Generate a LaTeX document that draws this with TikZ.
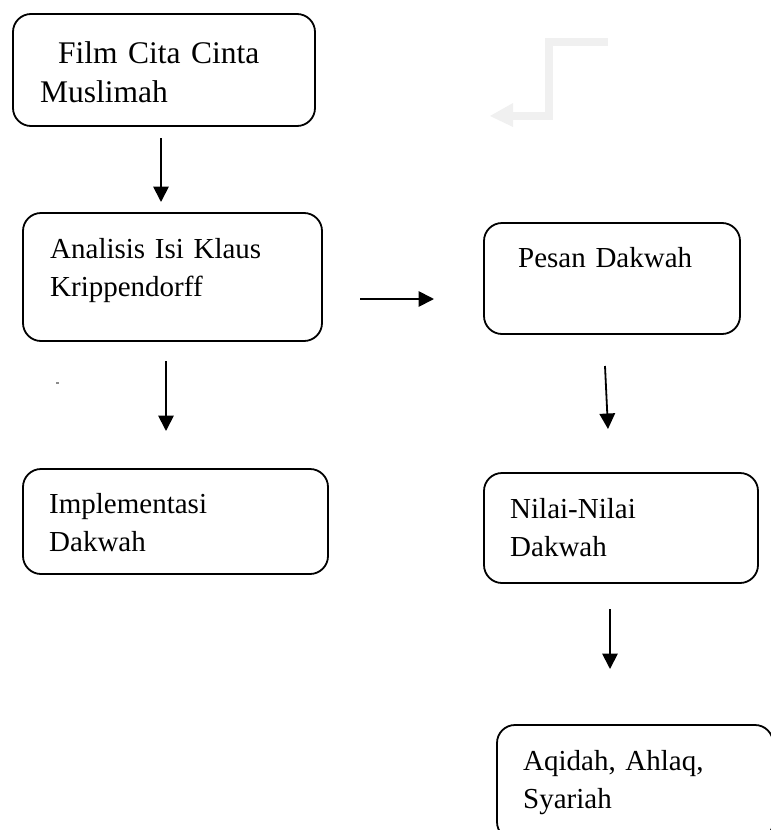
\documentclass[tikz,border=0pt]{standalone}
\usepackage{fontspec}
\setmainfont{Liberation Serif}
\usetikzlibrary{arrows.meta}
\begin{document}
\begin{tikzpicture}[x=1pt,y=-1pt,
  box/.style={draw=black,line width=1.8pt,rounded corners=18pt,rectangle,inner sep=0pt},
  lbl/.style={anchor=base west,inner sep=0pt,text width=280pt,align=left,
    font=\fontsize{29}{38.5}\selectfont},
  arr/.style={line width=1.8pt,-{Triangle[length=15.5pt,width=15.5pt]}},
  faint/.style={line width=8pt,draw=black!6}
]
\useasboundingbox (0,0) rectangle (771,830);
\clip (0,0) rectangle (771,830);
% boxes
\node[box,minimum width=302pt,minimum height=112pt] (b1) at (164,70) {};
\node[box,minimum width=299pt,minimum height=128pt] (b2) at (172.5,277) {};
\node[box,minimum width=256pt,minimum height=111pt] (b3) at (612,278.5) {};
\node[box,minimum width=305pt,minimum height=105pt] (b4) at (175.5,521.5) {};
\node[box,minimum width=274pt,minimum height=110pt] (b5) at (621,528) {};
\node[box,minimum width=276pt,minimum height=115pt] (b6) at (635,782.5) {};
% texts
\node[lbl,font=\fontsize{31.5}{39}\selectfont] (t1) at (40,63) {\hspace*{18pt}Film Cita Cinta\\Muslimah};
\node[lbl] (t2) at (50,258) {Analisis Isi Klaus\\Krippendorff};
\node[lbl] (t3) at (518,267) {Pesan Dakwah};
\node[lbl] (t4) at (49,513) {Implementasi\\Dakwah};
\node[lbl] (t5) at (510,518) {Nilai-Nilai\\Dakwah};
\node[lbl] (t6) at (523,770) {Aqidah, Ahlaq,\\Syariah};
% arrow end points
\coordinate (a1s) at (161,138); \coordinate (a1e) at (161,202);
\coordinate (a2s) at (166,361); \coordinate (a2e) at (166,431);
\coordinate (a3s) at (360,299); \coordinate (a3e) at (434,299);
\coordinate (a4s) at (605,366); \coordinate (a4e) at (608,429);
\coordinate (a5s) at (610,609); \coordinate (a5e) at (610,669);
\draw[arr] (a1s) -- (a1e);
\draw[arr] (a2s) -- (a2e);
\draw[arr] (a3s) -- (a3e);
\draw[arr] (a4s) -- (a4e);
\draw[arr] (a5s) -- (a5e);
% faint bent arrow
\coordinate (f1) at (608,42); \coordinate (f2) at (549,42);
\coordinate (f3) at (549,115.5); \coordinate (f4) at (512,115.5);
\draw[faint,line join=miter] (f1) -- (f2) -- (f3) -- (f4);
\fill[black!6] (513,103) -- (490,116) -- (513,127) -- cycle;
% tiny speck
\fill[black!45] (56,382) rectangle (58.5,383.5);
\end{tikzpicture}
\end{document}
